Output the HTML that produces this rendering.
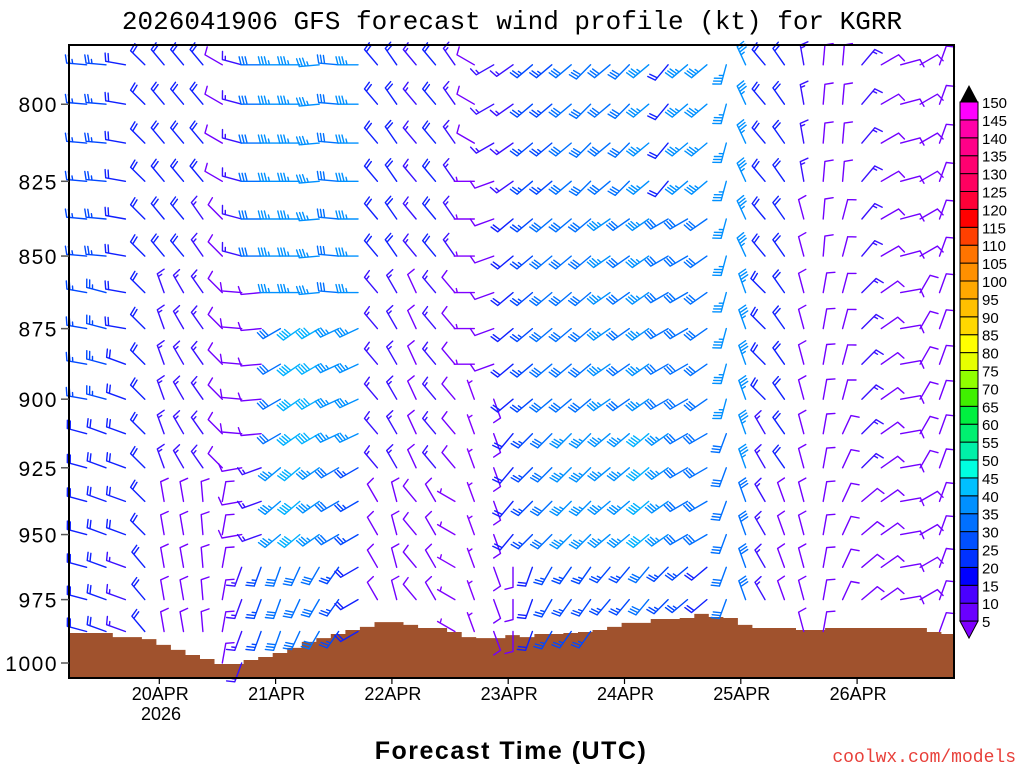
<!DOCTYPE html>
<html><head><meta charset="utf-8"><title>GFS wind profile KGRR</title>
<style>
html,body{margin:0;padding:0;background:#fff;}
#wrap{position:relative;width:1024px;height:768px;overflow:hidden;}
svg text{font-family:"Liberation Sans",sans-serif;}
</style></head>
<body>
<div id="wrap">
<svg id="chart" width="1024" height="768" viewBox="0 0 1024 768" xmlns="http://www.w3.org/2000/svg">
  <text x="512" y="29" text-anchor="middle" style="font-family:'Liberation Mono',monospace;font-size:26px" fill="#000">2026041906 GFS forecast wind profile (kt) for KGRR</text>
  <g id="terrain"></g>
  <g id="barbs"></g>
  <rect x="69" y="45" width="885" height="633" fill="none" stroke="#000" stroke-width="2"/>
  <g id="yaxis"></g>
  <g id="xaxis"></g>
  <text x="161" y="720" text-anchor="middle" font-size="18" fill="#000">2026</text>
  <text x="511" y="759" text-anchor="middle" font-size="25" font-weight="bold" letter-spacing="1.5" fill="#000">Forecast Time (UTC)</text>
  <text x="1016" y="762" text-anchor="end" style="font-family:'Liberation Mono',monospace;font-size:18px" fill="#e8403a">coolwx.com/models</text>
  <g id="colorbar"></g>
</svg>
</div>
<script>
// ---- data ----
var levels = [787.5,800,812.5,825,837.5,850,862.5,875,887.5,900,912.5,925,937.5,950,962.5,975,987.5,1000];
var pressureTicks = [800,825,850,875,900,925,950,975,1000];
var dayLabels = ["20APR","21APR","22APR","23APR","24APR","25APR","26APR"];
// surface pressure (hPa) at 3-hourly steps starting 19APR ~06Z
var surfacePressure = [988.1,988.1,988.1,989.7,989.7,990.5,992.8,994.8,996.8,998.4,1000.4,1000.4,998.8,997.6,996.0,994.0,991.6,990.1,988.5,986.9,985.7,983.8,983.8,984.9,986.1,986.1,987.7,989.7,990.1,990.1,988.9,989.7,988.5,988.5,988.1,987.7,986.9,985.7,984.1,984.1,982.6,982.6,982.2,980.6,981.8,982.2,984.9,986.1,986.1,986.1,986.9,986.9,986.1,986.1,986.1,986.1,986.1,986.1,986.1,987.7,988.5];
// wind per column (4-hourly): run-length "dir/speed*count" from 787.5 hPa down to 1000 hPa
var windColumns = [
"275/25*6 280/25*4 285/20*8",
"275/25*6 285/25*4 290/20*8",
"280/20*8 290/20*6 290/15*4",
"315/20*14 320/20*4",
"320/20*6 340/15*6 350/10*6",
"320/20*6 330/15*6 350/10*6",
"320/20*4 325/15*8 355/10*6",
"300/10*4 315/10*8 10/10*6",
"285/15*6 275/10*5 260/10*3 200/15*4",
"270/30*6 265/10*5 250/15*3 200/25*4",
"270/35*7 240/30*4 230/35*3 200/30*4",
"270/35*7 235/40*4 230/40*3 205/30*4",
"265/35*7 240/40*4 235/35*3 210/30*4",
"275/30*7 245/35*4 240/30*3 215/25*4",
"270/35*7 245/35*4 240/25*3 240/20*4",
"320/20*6 320/15*6 330/10*6",
"325/20*6 330/15*6 345/10*6",
"320/15*6 335/10*6 320/10*6",
"320/20*6 320/15*6 330/10*6",
"325/15*6 320/10*6 300/5*6",
"300/10*3 270/5*6 340/5*9",
"240/15*3 250/10*6 160/10*9",
"235/15*4 230/20*6 220/20*4 180/10*4",
"230/25*4 230/25*6 225/25*4 200/20*4",
"230/25*4 230/30*6 225/30*4 210/25*4",
"230/30*4 230/30*6 225/35*4 215/25*4",
"225/30*4 230/30*6 225/35*4 215/25*4",
"230/30*4 235/35*6 230/35*4 220/25*4",
"225/30*4 235/30*6 230/35*4 220/25*4",
"230/35*4 235/35*6 230/40*4 220/30*4",
"220/20*4 240/30*6 235/35*4 225/25*4",
"230/35*4 240/30*6 240/30*4 230/25*4",
"230/35*4 235/30*6 240/30*4 230/20*4",
"195/35*10 200/30*8",
"335/35*6 340/35*6 340/30*6",
"320/20*6 315/20*4 330/15*8",
"325/20*6 325/20*6 340/10*6",
"350/15*4 345/10*14",
"5/10*6 10/10*12",
"5/10*4 15/10*6 25/10*8",
"40/15*6 45/15*6 50/10*6",
"60/10*6 55/10*12",
"75/10*6 80/10*12",
"60/10*6 30/10*6 60/10*6",
"20/10*18"
];
var cbLabels = [5,10,15,20,25,30,35,40,45,50,55,60,65,70,75,80,85,90,95,100,105,110,115,120,125,130,135,140,145,150];
var cbColors = ["#6a00ff","#4a00ff","#0000ff","#0032ff","#0050ff","#0070ff","#0090ff","#00c0ff","#00ffe0","#00f0a8","#00f070","#00f040","#40f000","#90ff00","#e6ff00","#ffff00","#ffd800","#ffc000","#ffa800","#ff9000","#ff7400","#ff4000","#ff0000","#ff0038","#ff0060","#ff0070","#ff0088","#ff00a8","#ff00ff"];

// ---- axes ----
var NS='http://www.w3.org/2000/svg';
function yOf(p){return 663-2504*Math.log(1000/p);}
function xOfHour(h){return 159.3+116.3*(h-18)/24;}
function mk(tag,attrs,parent){var e=document.createElementNS(NS,tag);for(var k in attrs)e.setAttribute(k,attrs[k]);parent.appendChild(e);return e;}

// terrain
var tg=document.getElementById('terrain');
var d='M69,678';
for(var j=0;j<surfacePressure.length;j++){
  var x0=Math.max(69,xOfHour(3*j-0.6)), x1=Math.min(954,xOfHour(3*j+2.4));
  var y=Math.min(678,yOf(surfacePressure[j]));
  d+=' L'+x0.toFixed(1)+','+y.toFixed(1)+' L'+x1.toFixed(1)+','+y.toFixed(1);
}
d+=' L954,678 Z';
var tp=mk('path',{d:d,fill:'#a0522d'},tg);


function sfcAt(x){for(var j=0;j<surfacePressure.length;j++){if(x<xOfHour(3*j+2.4))return surfacePressure[j];}return surfacePressure[surfacePressure.length-1];}

// y axis
var ya=document.getElementById('yaxis');
pressureTicks.forEach(function(p){
  var y=yOf(p);
  var t=mk('line',{x1:61,x2:69,y1:y,y2:y,stroke:'#555','stroke-width':1.5},ya);
  
  
  var l=mk('text',{x:58,y:y+8,'text-anchor':'end','font-size':21,'letter-spacing':1.5,fill:'#000'},ya);
  l.textContent=p;
  
  
});
// x axis
var xa=document.getElementById('xaxis');
dayLabels.forEach(function(s,i){
  var x=xOfHour(18+24*i);
  var t=mk('line',{x1:x,x2:x,y1:678,y2:684,stroke:'#000','stroke-width':1.2},xa);
  
  
  var l=mk('text',{x:x+1,y:700,'text-anchor':'middle','font-size':18,fill:'#000'},xa);
  l.textContent=s;
  
  
});

// barbs
function speedColor(s){
  if(s<10)return '#8000ff'; if(s<15)return '#7200ff'; if(s<20)return '#3a10ff';
  if(s<25)return '#1020ff'; if(s<30)return '#0048ff'; if(s<35)return '#0070ff';
  if(s<40)return '#0090ff'; return '#00b0ff';
}
function parseCol(str){var out=[];str.split(' ').forEach(function(tok){var a=tok.split('*'),n=+a[1],ds=a[0].split('/');for(var i=0;i<n;i++)out.push([+ds[0],+ds[1]]);});return out;}
var bg=document.getElementById('barbs');
windColumns.forEach(function(str,k){
  var x=xOfHour(3+4*k);
  var col=parseCol(str);
  var ps=sfcAt(x);
  col.forEach(function(w,i){
    var p=levels[i]; if(p>ps+1)return;
    var y=yOf(p), dir=w[0]*Math.PI/180, spd=w[1];
    var ux=Math.sin(dir), uy=-Math.cos(dir);
    var px=-uy, py=ux;
    var L=20, c=speedColor(spd);
    var path='M'+x.toFixed(1)+','+y.toFixed(1)+' L'+(x+ux*L).toFixed(1)+','+(y+uy*L).toFixed(1);
    var full=Math.floor(spd/10), half=(spd%10)>=5?1:0, pos=L;
    for(var f=0;f<full;f++){
      var bx=x+ux*pos, by=y+uy*pos;
      path+=' M'+bx.toFixed(1)+','+by.toFixed(1)+' L'+(bx+px*8+ux*2).toFixed(1)+','+(by+py*8+uy*2).toFixed(1);
      pos-=3;
    }
    if(half){
      if(full===0)pos-=3;
      var hx=x+ux*pos, hy=y+uy*pos;
      path+=' M'+hx.toFixed(1)+','+hy.toFixed(1)+' L'+(hx+px*4+ux*1).toFixed(1)+','+(hy+py*4+uy*1).toFixed(1);
    }
    var e=mk('path',{d:path,stroke:c,'stroke-width':1.4,fill:'none','stroke-linecap':'round'},bg);
    
    
  });
});

// colorbar
var cb=document.getElementById('colorbar');
var cbTop=102, step=17.9, cx=960, cw=18;
var n=cbColors.length;
for(var i=0;i<n;i++){
  var yb=cbTop+step*(n-1-i);
  var r=mk('rect',{x:cx,y:yb,width:cw,height:step,fill:cbColors[i],stroke:'#000','stroke-width':1},cb);
  
  
}
var tt=mk('polygon',{points:cx+','+cbTop+' '+(cx+cw)+','+cbTop+' '+(cx+cw/2)+','+(cbTop-17),fill:'#000'},cb);


var bot=cbTop+step*n;
var bt=mk('polygon',{points:cx+','+bot+' '+(cx+cw)+','+bot+' '+(cx+cw/2)+','+(bot+17),fill:'#7f00ff',stroke:'#000','stroke-width':1},cb);


cbLabels.forEach(function(v,i){
  var y=cbTop+step*(n-i);
  var l=mk('text',{x:982,y:y+6,'font-size':15,fill:'#000'},cb);
  l.textContent=v;
  
  
});
</script>
</body></html>
